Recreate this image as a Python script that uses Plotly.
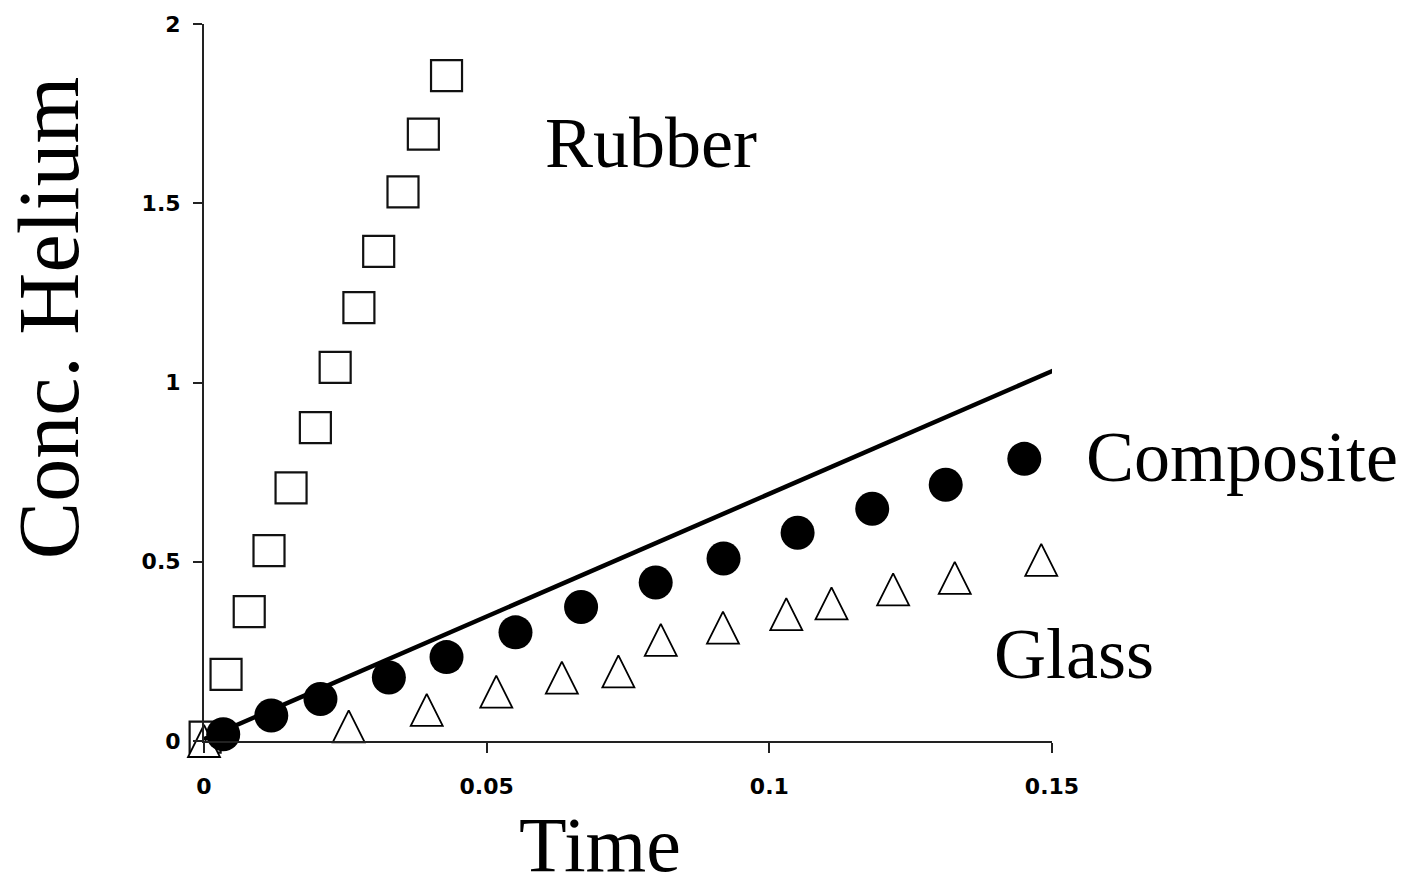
import plotly.graph_objects as go

# Helium concentration vs time for three membrane materials
rubber_t = [0.0002, 0.0039, 0.0080, 0.0115, 0.0154, 0.0197, 0.0232, 0.0274, 0.0309, 0.0352, 0.0388, 0.0429]
rubber_c = [0.011, 0.186, 0.361, 0.531, 0.706, 0.874, 1.042, 1.209, 1.366, 1.532, 1.693, 1.856]

composite_t = [0.0034, 0.0119, 0.0206, 0.0327, 0.0429, 0.0551, 0.0667, 0.0799, 0.0919, 0.1050, 0.1182, 0.1312, 0.1451]
composite_c = [0.019, 0.071, 0.117, 0.177, 0.234, 0.303, 0.374, 0.442, 0.509, 0.581, 0.648, 0.715, 0.787]

glass_t = [0.0, 0.0256, 0.0394, 0.0517, 0.0633, 0.0733, 0.0808, 0.0918, 0.1030, 0.1110, 0.1219, 0.1328, 0.1481]
glass_c = [0.0, 0.041, 0.087, 0.138, 0.177, 0.194, 0.282, 0.316, 0.354, 0.384, 0.423, 0.455, 0.505]

# straight reference line
line_t = [0.0, 0.1502]
line_c = [0.005, 1.033]

x_ticks = [0, 0.05, 0.1, 0.15]
x_tick_text = ["0", "0.05", "0.1", "0.15"]
y_ticks = [0, 0.5, 1, 1.5, 2]
y_tick_text = ["0", "0.5", "1", "1.5", "2"]

SERIF = "Liberation Serif, Times New Roman, serif"
TICKFONT = dict(family="DejaVu Sans", size=22, color="black", weight="bold")

tri_size = 32

fig = go.Figure()

fig.add_trace(go.Scatter(
    x=rubber_t, y=rubber_c, mode="markers", cliponaxis=False,
    marker=dict(symbol="square-open", size=31, color="#111111", line=dict(width=2.2, color="#111111")),
    showlegend=False, hoverinfo="skip"))

# equal width/height triangles: an arrowhead flipped upward and centred on the point
fig.add_trace(go.Scatter(
    x=glass_t, y=glass_c, mode="markers", cliponaxis=False,
    marker=dict(symbol="arrow-down", angle=180, standoff=tri_size / 2, size=tri_size,
                color="white", line=dict(width=1.8, color="black")),
    showlegend=False, hoverinfo="skip"))

fig.add_trace(go.Scatter(
    x=composite_t, y=composite_c, mode="markers", cliponaxis=False,
    marker=dict(symbol="circle", size=34, color="black", line=dict(width=0)),
    showlegend=False, hoverinfo="skip"))

fig.add_trace(go.Scatter(
    x=line_t, y=line_c, mode="lines", cliponaxis=False,
    line=dict(color="black", width=4.5),
    showlegend=False, hoverinfo="skip"))

L, R, T, B = 204, 364, 22, 150
W, H = 1416, 891
pw, ph = W - L - R, H - T - B


def px_x(px):
    return (px - L) / pw


def px_y(py):
    return (H - B - py) / ph


labels = [
    ("Rubber", 650.5, 141, 72, 0),
    ("Composite", 1241.5, 456, 72, 0),
    ("Glass", 1073.5, 654, 72, 0),
    ("Time", 600, 845, 78, 0),
    ("Conc. Helium", 48.5, 316.5, 86, -90),
]
annotations = [
    dict(text=t, x=px_x(xp), y=px_y(yp), xref="paper", yref="paper",
         xanchor="center", yanchor="middle", showarrow=False, textangle=ang,
         font=dict(family=SERIF, size=sz, color="black"))
    for t, xp, yp, sz, ang in labels
]

fig.update_layout(
    width=W, height=H,
    margin=dict(l=L, r=R, t=T, b=B),
    paper_bgcolor="white", plot_bgcolor="white",
    showlegend=False,
    annotations=annotations,
    xaxis=dict(range=[0, 0.15], tickvals=x_ticks, ticktext=x_tick_text,
               showgrid=False, zeroline=False, showline=True, linecolor="#222222", linewidth=2,
               ticks="outside", ticklen=10, tickwidth=2, tickcolor="#222222",
               tickfont=TICKFONT, ticklabelstandoff=15, fixedrange=True),
    yaxis=dict(range=[0, 2], tickvals=y_ticks, ticktext=y_tick_text,
               showgrid=False, zeroline=False, showline=True, linecolor="#222222", linewidth=2,
               ticks="outside", ticklen=9, tickwidth=2, tickcolor="#222222",
               tickfont=TICKFONT, ticklabelstandoff=8, fixedrange=True),
)

fig.write_html("out.html")
